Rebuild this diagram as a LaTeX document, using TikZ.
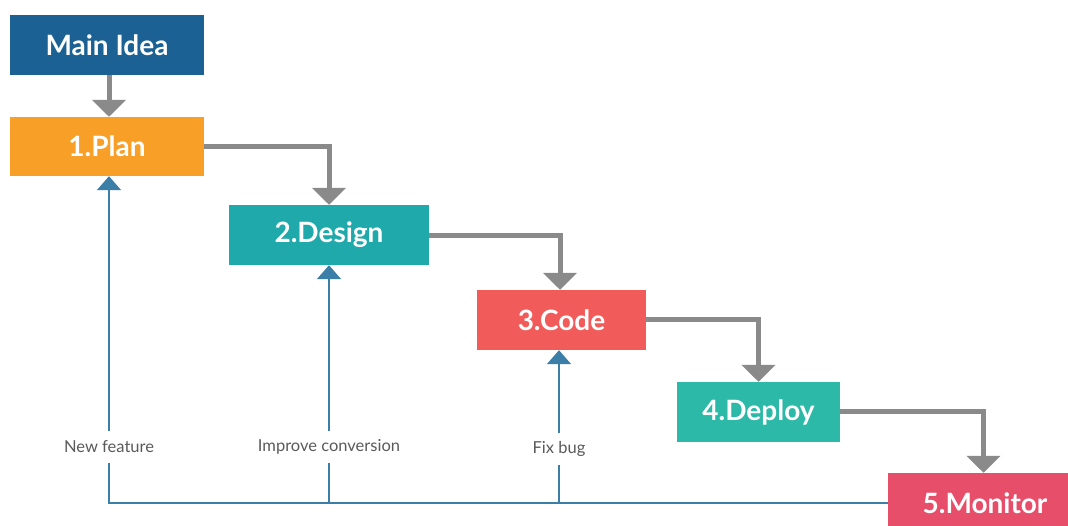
\documentclass[tikz,border=0pt]{standalone}
\usepackage{fontspec}
\setmainfont{Lato}
\usetikzlibrary{arrows.meta}
\definecolor{cmain}{HTML}{1B6193}
\definecolor{cplan}{HTML}{F79F26}
\definecolor{cdesign}{HTML}{1FA9AB}
\definecolor{ccode}{HTML}{F15C5A}
\definecolor{cdeploy}{HTML}{2DB9A8}
\definecolor{cmonitor}{HTML}{E64E69}
\definecolor{cgray}{HTML}{8A8A8A}
\definecolor{cblue}{HTML}{3B7EA8}
\definecolor{ctext}{HTML}{5A5A5A}
\begin{document}
\begin{tikzpicture}[x=1pt,y=-1pt,
  box/.style={inner sep=0pt, text=white, minimum height=60pt, font=\bfseries\fontsize{28}{32}\selectfont},
  flow/.style={draw=cgray, line width=5pt, line join=miter, -{Triangle[width=33pt,length=17pt]}},
  back/.style={draw=cblue, line width=2pt, -{Triangle[width=24pt,length=14pt]}},
  lbl/.style={fill=white, text=ctext, font=\fontsize{16.5}{19}\selectfont, minimum height=32pt, inner sep=1pt}]
\clip (0,0) rectangle (1068,526);
\fill[white] (0,0) rectangle (1068,526);
% boxes
\node[box, fill=cmain, minimum width=194pt] (main) at (107,45) {Main Idea};
\node[box, fill=cplan, minimum width=194pt, minimum height=59pt] (plan) at (107,146.5) {1.Plan};
\node[box, fill=cdesign, minimum width=200pt] (design) at (329,235) {2.Design};
\node[box, fill=ccode, minimum width=169pt] (code) at (561.5,320) {3.Code};
\node[box, fill=cdeploy, minimum width=163pt] (deploy) at (758.5,412) {4.Deploy};
\node[box, fill=cmonitor, minimum width=194pt] (monitor) at (985,503) {5.Monitor};
% anchor points on the box edges used by the connectors
\coordinate (mainS) at ([xshift=2pt]main.south);
\coordinate (planN) at ([xshift=2pt]plan.north);
\coordinate (planS) at ([xshift=2pt]plan.south);
\coordinate (codeN) at ([xshift=-1.5pt]code.north);
\coordinate (codeS) at ([xshift=-2.5pt]code.south);
\coordinate (monN) at ([xshift=-1.5pt]monitor.north);
% forward flow
\draw[flow] (mainS) -- (planN);
\draw[flow] (plan.east) -| (design.north);
\draw[flow] ([yshift=-0.5pt]design.east) -| (codeN);
\draw[flow] (code.east) -| (deploy.north);
\draw[flow] ([yshift=0.5pt]deploy.east) -| (monN);
% feedback
\coordinate (j2) at (design.south |- monitor.west);
\coordinate (j3) at (codeS |- monitor.west);
\draw[back] (monitor.west) -| (planS);
\draw[back] (j2) -- (design.south);
\draw[back] (j3) -- (codeS);
\node[lbl] (l1) at (109,447) {New feature};
\node[lbl] (l2) at (329,447) {Improve conversion};
\node[lbl] (l3) at (559,449) {Fix bug};
\end{tikzpicture}
\end{document}
